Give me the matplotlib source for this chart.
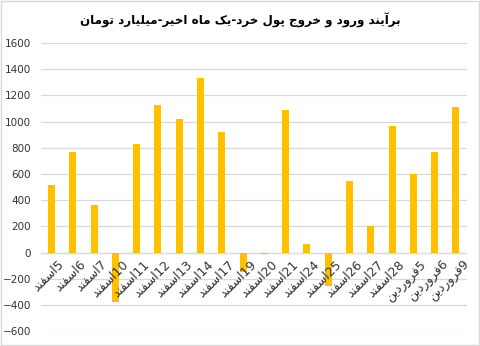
import matplotlib
matplotlib.use("Agg")
import matplotlib.pyplot as plt
from matplotlib.patches import Rectangle

# ------------------------- Data ------------------------- #
days = ['5', '6', '7', '10', '11', '12', '13', '14', '17', '19',
        '20', '21', '24', '25', '26', '27', '28', '5', '6', '9']
months = ['اسفند'] * 17 + ['فروردین'] * 3
values = [515, 765, 365, -375, 828, 1125, 1020, 1330, 920, -150,
          -8, 1090, 68, -255, 545, 205, 968, 600, 767, 1112]
title = 'برآیند ورود و خروج پول خرد-یک ماه اخیر-میلیارد تومان'

# ------------------------- Arabic shaping (no bidi lib available) ------------------------- #
FORMS = {
    'ا': ('\uFE8D', '\uFE8E', None, None),
    'آ': ('\uFE81', '\uFE82', None, None),
    'ب': ('\uFE8F', '\uFE90', '\uFE91', '\uFE92'),
    'پ': ('\uFB56', '\uFB57', '\uFB58', '\uFB59'),
    'ت': ('\uFE95', '\uFE96', '\uFE97', '\uFE98'),
    'ج': ('\uFE9D', '\uFE9E', '\uFE9F', '\uFEA0'),
    'خ': ('\uFEA5', '\uFEA6', '\uFEA7', '\uFEA8'),
    'د': ('\uFEA9', '\uFEAA', None, None),
    'ر': ('\uFEAD', '\uFEAE', None, None),
    'س': ('\uFEB1', '\uFEB2', '\uFEB3', '\uFEB4'),
    'ف': ('\uFED1', '\uFED2', '\uFED3', '\uFED4'),
    'ک': ('\uFB8E', '\uFB8F', '\uFB90', '\uFB91'),
    'ل': ('\uFEDD', '\uFEDE', '\uFEDF', '\uFEE0'),
    'م': ('\uFEE1', '\uFEE2', '\uFEE3', '\uFEE4'),
    'ن': ('\uFEE5', '\uFEE6', '\uFEE7', '\uFEE8'),
    'ه': ('\uFEE9', '\uFEEA', '\uFEEB', '\uFEEC'),
    'و': ('\uFEED', '\uFEEE', None, None),
    'ی': ('\uFBFC', '\uFBFD', '\uFBFE', '\uFBFF'),
}


def rtl(s):
    out = []
    for i, c in enumerate(s):
        if c not in FORMS:
            out.append(c)
            continue
        prev = s[i - 1] if i > 0 else None
        nxt = s[i + 1] if i + 1 < len(s) else None
        jp = prev in FORMS and FORMS[prev][2] is not None
        jn = nxt in FORMS and FORMS[c][2] is not None
        f = FORMS[c]
        if jp and jn:
            out.append(f[3])
        elif jp:
            out.append(f[1])
        elif jn:
            out.append(f[2])
        else:
            out.append(f[0])
    return ''.join(out)[::-1]


# ------------------------- Plot ------------------------- #
plt.rcParams['font.family'] = ['DejaVu Sans', 'Noto Sans']
text_color = '#333333'

fig = plt.figure(figsize=(4.8, 3.46), dpi=100)
ax = fig.add_axes([0.085, 0.043, 0.887, 0.833])

x = list(range(len(values)))
ax.bar(x, values, width=0.33, color='#FFC000', zorder=3)

ax.set_ylim(-600, 1600)
ax.set_yticks(range(-600, 1601, 200))
ax.set_xlim(-0.5, len(values) - 0.5)
ax.set_xticks([])
ax.grid(axis='y', color='#d9d9d9', linewidth=0.9, zorder=0)
ax.axhline(0, color='#d9d9d9', linewidth=0.9, zorder=1)
for s in ax.spines.values():
    s.set_visible(False)
ax.tick_params(axis='y', length=0, labelsize=7.5, labelcolor=text_color, pad=7)

for i, (d, m) in enumerate(zip(days, months)):
    ax.text(i + 0.3, -40, rtl(m) + d, rotation=45, ha='right', va='top',
            rotation_mode='anchor', fontsize=9, color=text_color, zorder=4)

fig.text(0.5, 0.942, rtl(title), ha='center', va='center', fontsize=8.6,
         fontweight='bold', color='black')

fig.patches.append(Rectangle((0.002, 0.003), 0.995, 0.994, transform=fig.transFigure,
                             fill=False, edgecolor='#d9d9d9', linewidth=1))

fig.savefig('out.png', dpi=100)
